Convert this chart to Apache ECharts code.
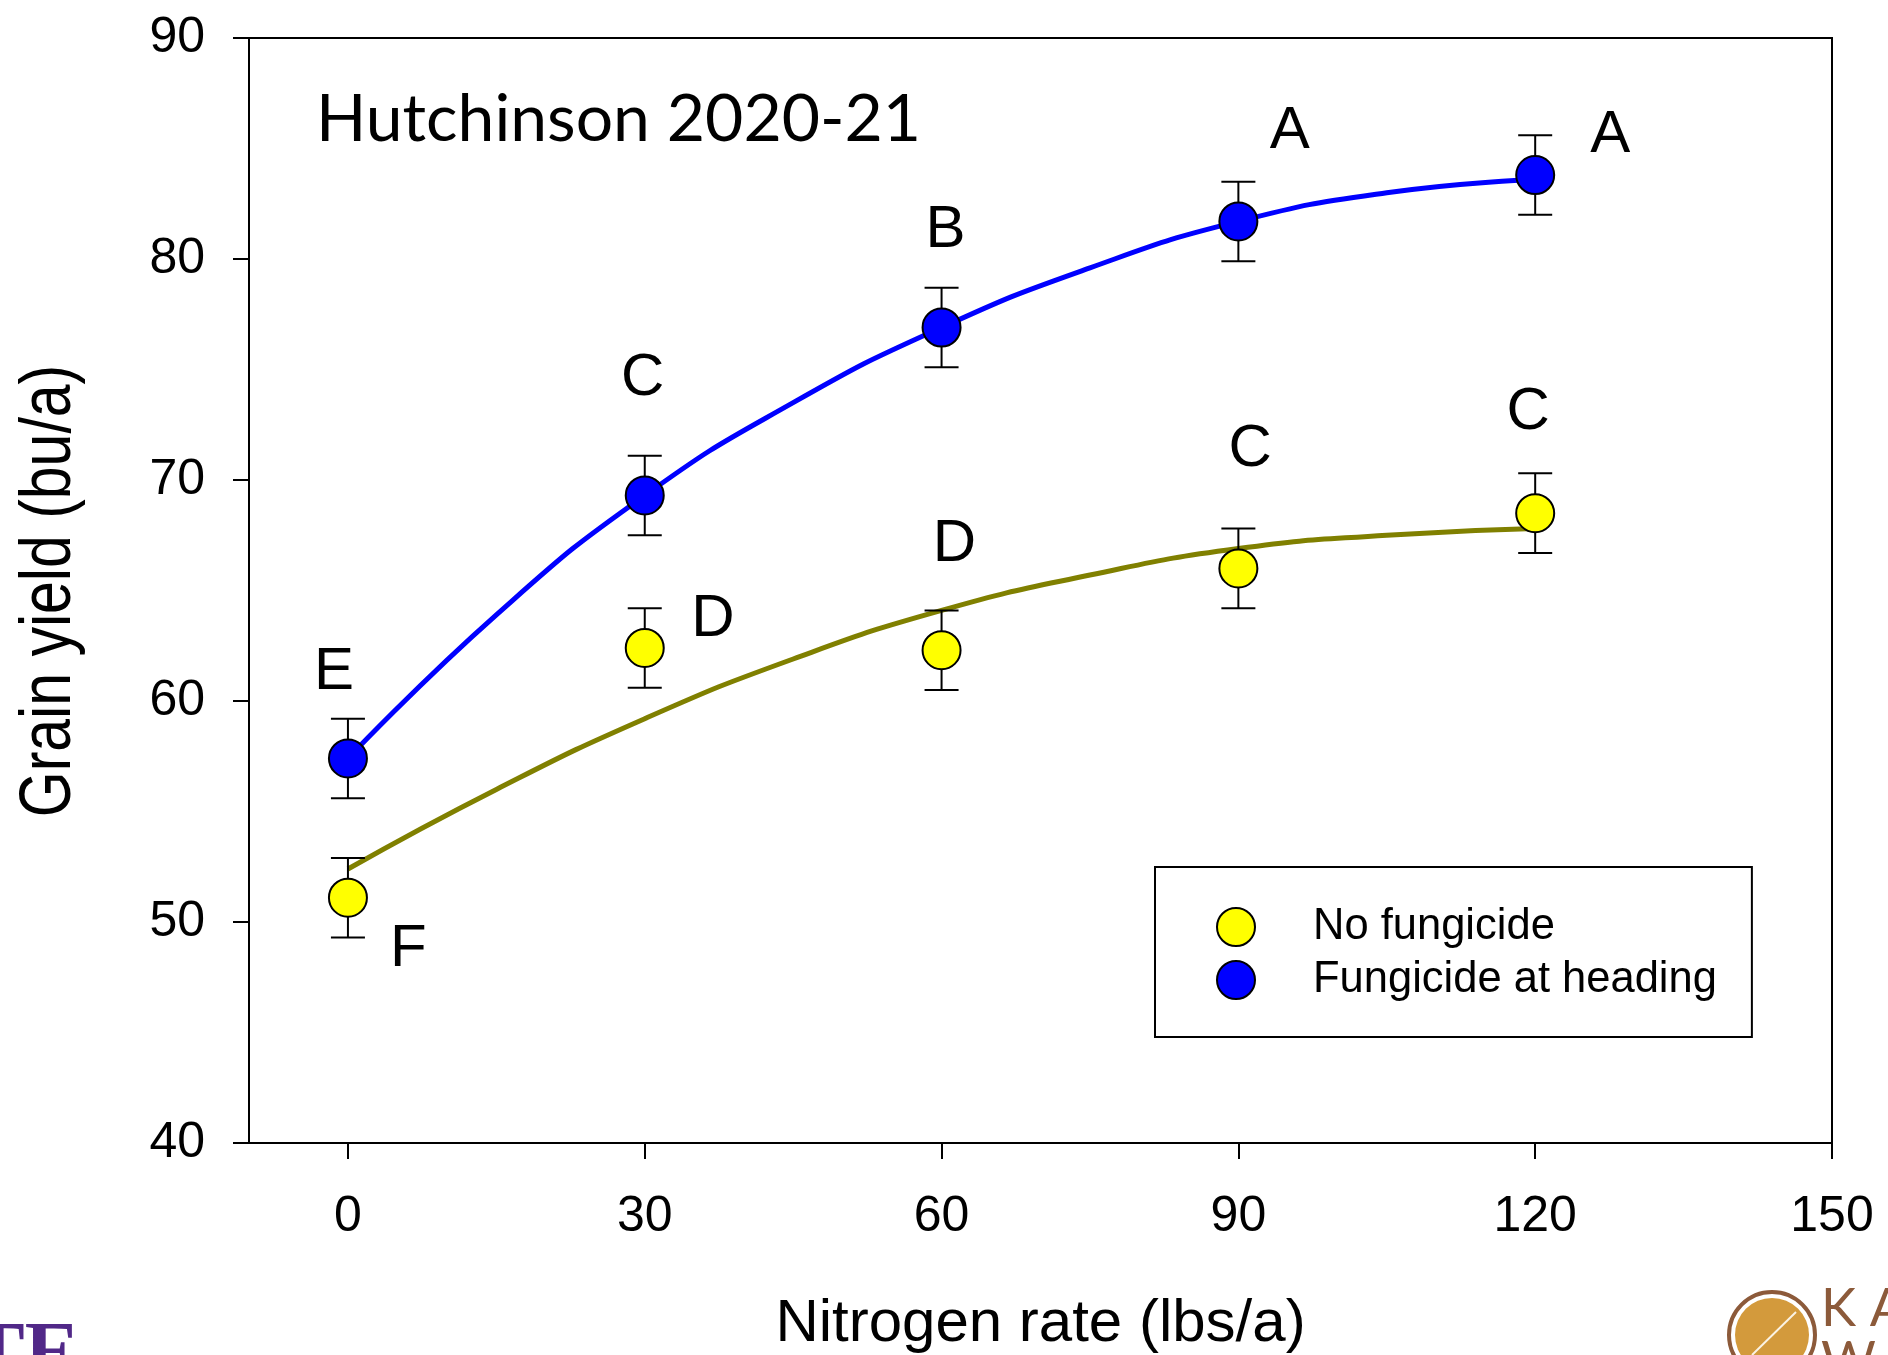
<!DOCTYPE html>
<html><head><meta charset="utf-8">
<script src="https://cdn.jsdelivr.net/npm/echarts@6/dist/echarts.min.js"></script>
<style>html,body{margin:0;padding:0;background:#fff}#c{width:1888px;height:1355px}</style>
</head><body><div id="c"></div>
<script>
// ---- data ----
const nRates = [0, 30, 60, 90, 120];
const noFungicide = [51.1, 62.4, 62.3, 66.0, 68.5];
const noFungicideErr = [1.8, 1.8, 1.8, 1.8, 1.8];
const fungicide = [57.4, 69.3, 76.9, 81.7, 83.8];
const fungicideErr = [1.8, 1.8, 1.8, 1.8, 1.8];
// fitted response curves as drawn in the picture
const curveRates = [0, 15, 30, 45, 60, 75, 90, 105, 120];
const noFungicideCurve = [52.4, 56.0, 59.2, 61.9, 64.1, 65.7, 66.9, 67.5, 67.8];
const fungicideCurve = [57.4, 63.9, 69.3, 73.5, 76.9, 79.6, 81.7, 83.0, 83.6];
const xTicks = [0, 30, 60, 90, 120, 150];
const seriesNames = ['No fungicide', 'Fungicide at heading'];
// mean-separation letters and their anchor (in data units)
const letterText = ['E', 'C', 'B', 'A', 'A', 'F', 'D', 'D', 'C', 'C'];
const letterAnchorX = [-1.4, 29.8, 60.4, 95.2, 127.6, 6.1, 36.9, 61.3, 91.2, 119.3];
const letterAnchorY = [61.5, 74.8, 81.5, 86.0, 85.8, 49.0, 63.9, 67.3, 71.6, 73.3];

const FONT = '"Liberation Sans", Arial, sans-serif';
const chart = echarts.init(document.getElementById('c'));

function errBars(name, vals, errs) {
  return {
    type: 'custom', name: name, z: 3, silent: true,
    data: nRates.map((x, i) => [x, vals[i] - errs[i], vals[i] + errs[i]]),
    encode: { x: 0, y: [1, 2] },
    renderItem: function (params, api) {
      const x = api.value(0);
      const lo = api.coord([x, api.value(1)]);
      const hi = api.coord([x, api.value(2)]);
      const hw = 17;
      const st = { stroke: '#000', lineWidth: 2 };
      return {
        type: 'group', children: [
          { type: 'line', shape: { x1: lo[0], y1: lo[1], x2: hi[0], y2: hi[1] }, style: st },
          { type: 'line', shape: { x1: lo[0] - hw, y1: lo[1], x2: lo[0] + hw, y2: lo[1] }, style: st },
          { type: 'line', shape: { x1: hi[0] - hw, y1: hi[1], x2: hi[0] + hw, y2: hi[1] }, style: st }
        ]
      };
    }
  };
}

const option = {
  animation: false,
  backgroundColor: '#fff',
  grid: { left: 249, right: 56, top: 38, bottom: 212, show: true, borderColor: '#000', borderWidth: 2, backgroundColor: 'transparent', outerBoundsMode: 'none', containLabel: false },
  xAxis: {
    type: 'value', min: -10, max: 150, position: 'bottom',
    axisLine: { show: true, onZero: false, lineStyle: { color: '#000', width: 2 } },
    axisTick: { show: true, length: 16, customValues: xTicks, lineStyle: { color: '#000', width: 2 } },
    axisLabel: { customValues: xTicks, margin: 49, fontSize: 50, fontFamily: FONT, color: '#000' },
    splitLine: { show: false },
    name: 'Nitrogen rate (lbs/a)', nameLocation: 'middle', nameGap: 151,
    nameTextStyle: { fontSize: 60, fontFamily: FONT, color: '#000' }
  },
  yAxis: {
    type: 'value', min: 40, max: 90, interval: 10, position: 'left',
    axisLine: { show: true, onZero: false, lineStyle: { color: '#000', width: 2 } },
    axisTick: { show: true, length: 16, lineStyle: { color: '#000', width: 2 } },
    axisLabel: { margin: 44, fontSize: 50, fontFamily: FONT, color: '#000' },
    splitLine: { show: false }
  },
  legend: {
    data: seriesNames, orient: 'vertical', left: 1155, top: 867,
    padding: [33.5, 35, 30.5, 61], itemWidth: 144, itemHeight: 38, itemGap: 0,
    icon: 'circle', borderColor: '#000', borderWidth: 2, backgroundColor: '#fff',
    selectedMode: false,
    itemStyle: { borderColor: '#000', borderWidth: 2 },
    textStyle: { fontSize: 43.5, lineHeight: 53, fontFamily: FONT, color: '#000' }
  },
  graphic: [
    { type: 'text', x: 316, y: 120, z: 10, style: { text: 'Hutchinson 2020-21', font: '66px Lato, "Open Sans", sans-serif', fill: '#000', verticalAlign: 'middle' } },
    { type: 'text', x: 50, y: 591, rotation: Math.PI / 2, scaleY: 1.22, z: 10, style: { text: 'Grain yield (bu/a)', font: '59px ' + FONT, fill: '#000', align: 'center', verticalAlign: 'middle' } },
    // partial university logo (cropped at lower left)
    { type: 'text', x: -30, y: 1316, z: 10, style: { text: 'TE', font: 'bold 82px "Liberation Serif", serif', fill: '#512888', verticalAlign: 'top' } },
    // partial wheat logo (cropped at lower right)
    { type: 'circle', z: 10, shape: { cx: 1772, cy: 1335, r: 43 }, style: { fill: '#fff', stroke: '#8C5A3A', lineWidth: 4 } },
    { type: 'circle', z: 10, shape: { cx: 1772, cy: 1335, r: 37 }, style: { fill: '#D39A3C' } },
    { type: 'line', z: 11, shape: { x1: 1752, y1: 1355, x2: 1796, y2: 1312 }, style: { stroke: '#FBF3E4', lineWidth: 2 } },
    { type: 'group', z: 11, x: 1780, y: 1327, rotation: -Math.PI / 4, children: [
      { type: 'ellipse', shape: { cx: -5, cy: -12, rx: 3, ry: 6 }, style: { fill: '#FBF3E4' } },
      { type: 'ellipse', shape: { cx: 5, cy: -12, rx: 3, ry: 6 }, style: { fill: '#FBF3E4' } },
      { type: 'ellipse', shape: { cx: -5, cy: -1, rx: 3, ry: 6 }, style: { fill: '#FBF3E4' } },
      { type: 'ellipse', shape: { cx: 5, cy: -1, rx: 3, ry: 6 }, style: { fill: '#FBF3E4' } },
      { type: 'ellipse', shape: { cx: -5, cy: 10, rx: 3, ry: 6 }, style: { fill: '#FBF3E4' } },
      { type: 'ellipse', shape: { cx: 5, cy: 10, rx: 3, ry: 6 }, style: { fill: '#FBF3E4' } },
      { type: 'ellipse', shape: { cx: -5, cy: 21, rx: 3, ry: 6 }, style: { fill: '#FBF3E4' } },
      { type: 'ellipse', shape: { cx: 5, cy: 21, rx: 3, ry: 6 }, style: { fill: '#FBF3E4' } }
    ] },
    { type: 'text', x: 1821, y: 1309, z: 10, style: { text: 'K A N S A S', font: '53px Lato, sans-serif', fill: '#8C5A3A', verticalAlign: 'middle' } },
    { type: 'text', x: 1821, y: 1362, z: 10, style: { text: 'W H E A T', font: '53px Lato, sans-serif', fill: '#8C5A3A', verticalAlign: 'middle' } }
  ],
  series: [
    { type: 'line', name: 'No fungicide fit', z: 2, silent: true, smooth: 0.5, showSymbol: false,
      data: curveRates.map((x, i) => [x, noFungicideCurve[i]]), lineStyle: { color: '#808000', width: 5 } },
    { type: 'line', name: 'Fungicide fit', z: 2, silent: true, smooth: 0.5, showSymbol: false,
      data: curveRates.map((x, i) => [x, fungicideCurve[i]]), lineStyle: { color: '#0000FF', width: 5 } },
    errBars('No fungicide SE', noFungicide, noFungicideErr),
    errBars('Fungicide SE', fungicide, fungicideErr),
    { type: 'scatter', name: seriesNames[0], z: 5, symbol: 'circle', symbolSize: 38,
      data: nRates.map((x, i) => [x, noFungicide[i]]),
      itemStyle: { color: '#FFFF00', borderColor: '#000', borderWidth: 2, opacity: 1 } },
    { type: 'scatter', name: seriesNames[1], z: 5, symbol: 'circle', symbolSize: 38,
      data: nRates.map((x, i) => [x, fungicide[i]]),
      itemStyle: { color: '#0000FF', borderColor: '#000', borderWidth: 2, opacity: 1 } },
    { type: 'custom', name: 'letters', z: 6, silent: true,
      data: letterAnchorX.map((x, i) => [x, letterAnchorY[i]]),
      encode: { x: 0, y: 1 },
      renderItem: function (params, api) {
        const p = api.coord([api.value(0), api.value(1)]);
        return { type: 'text', x: p[0], y: p[1] + 5, style: { text: letterText[params.dataIndex], font: '60px ' + FONT, fill: '#000', align: 'center', verticalAlign: 'middle' } };
      } }
  ]
};
chart.setOption(option);
</script></body></html>
